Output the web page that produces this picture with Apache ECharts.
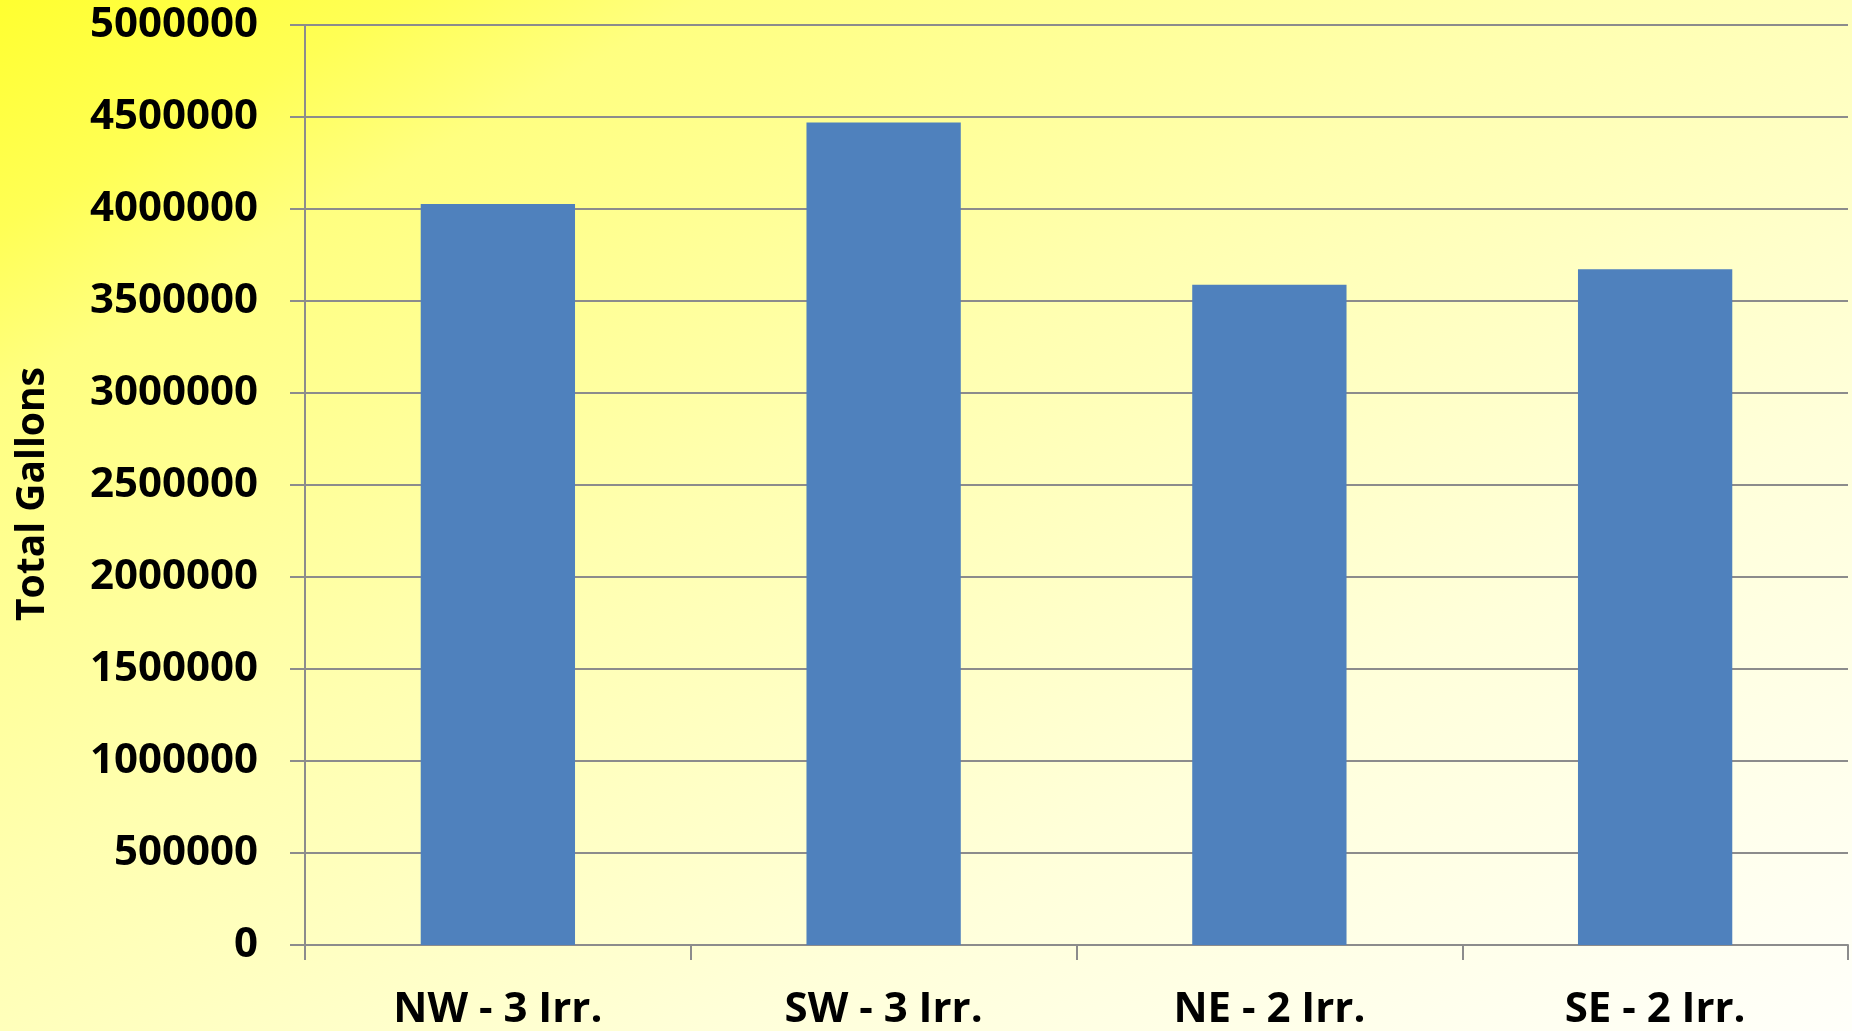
<!DOCTYPE html>
<html>
<head>
<meta charset="utf-8">
<script src="https://cdn.jsdelivr.net/npm/echarts@6/dist/echarts.min.js"></script>
<style>
html,body{margin:0;padding:0;width:1852px;height:1031px;overflow:hidden;}
#chart{width:1852px;height:1031px;background:linear-gradient(to bottom right,#FFFF30 0%,#FFFF55 11%,#FFFF80 19%,#FFFFB0 43%,#FFFFDA 70%,#FFFFFA 100%);}
</style>
</head>
<body>
<div id="chart"></div>
<script>
const categories = ['NW - 3 Irr.', 'SW - 3 Irr.', 'NE - 2 Irr.', 'SE - 2 Irr.'];
const totalGallons = [4027000, 4470000, 3588000, 3672000];
const yAxisTitle = 'Total Gallons';

const chart = echarts.init(document.getElementById('chart'));
const gray = '#8c8c8c';
const font = '"Open Sans", "DejaVu Sans", sans-serif';
chart.setOption({
  backgroundColor: 'transparent',
  animation: false,
  grid: { left: 305, right: 4, top: 25, bottom: 83, containLabel: false },
  xAxis: {
    type: 'category',
    data: categories,
    axisLine: { show: true, lineStyle: { color: gray, width: 2 } },
    axisTick: { show: true, length: 15, alignWithLabel: false, lineStyle: { color: gray, width: 2 } },
    axisLabel: { color: '#000', fontSize: 42, fontWeight: 'bold', fontFamily: font, margin: 44 },
    splitLine: { show: false }
  },
  yAxis: {
    type: 'value',
    min: 0,
    max: 5000000,
    interval: 500000,
    name: yAxisTitle,
    nameLocation: 'middle',
    nameRotate: 90,
    nameGap: 253,
    nameTextStyle: { color: '#000', fontSize: 39, fontWeight: 'bold', fontFamily: font, padding: [0, 18, 0, 0] },
    axisLine: { show: true, lineStyle: { color: gray, width: 2 } },
    axisTick: { show: true, length: 15, lineStyle: { color: gray, width: 2 } },
    axisLabel: { color: '#000', fontSize: 42, fontWeight: 'bold', fontFamily: font, margin: 47,
      formatter: function (v) { return String(v); } },
    splitLine: { show: true, lineStyle: { color: gray, width: 2 } }
  },
  series: [{
    type: 'bar',
    data: totalGallons,
    barWidth: '40%',
    itemStyle: { color: '#4F81BD' }
  }]
});
</script>
</body>
</html>
